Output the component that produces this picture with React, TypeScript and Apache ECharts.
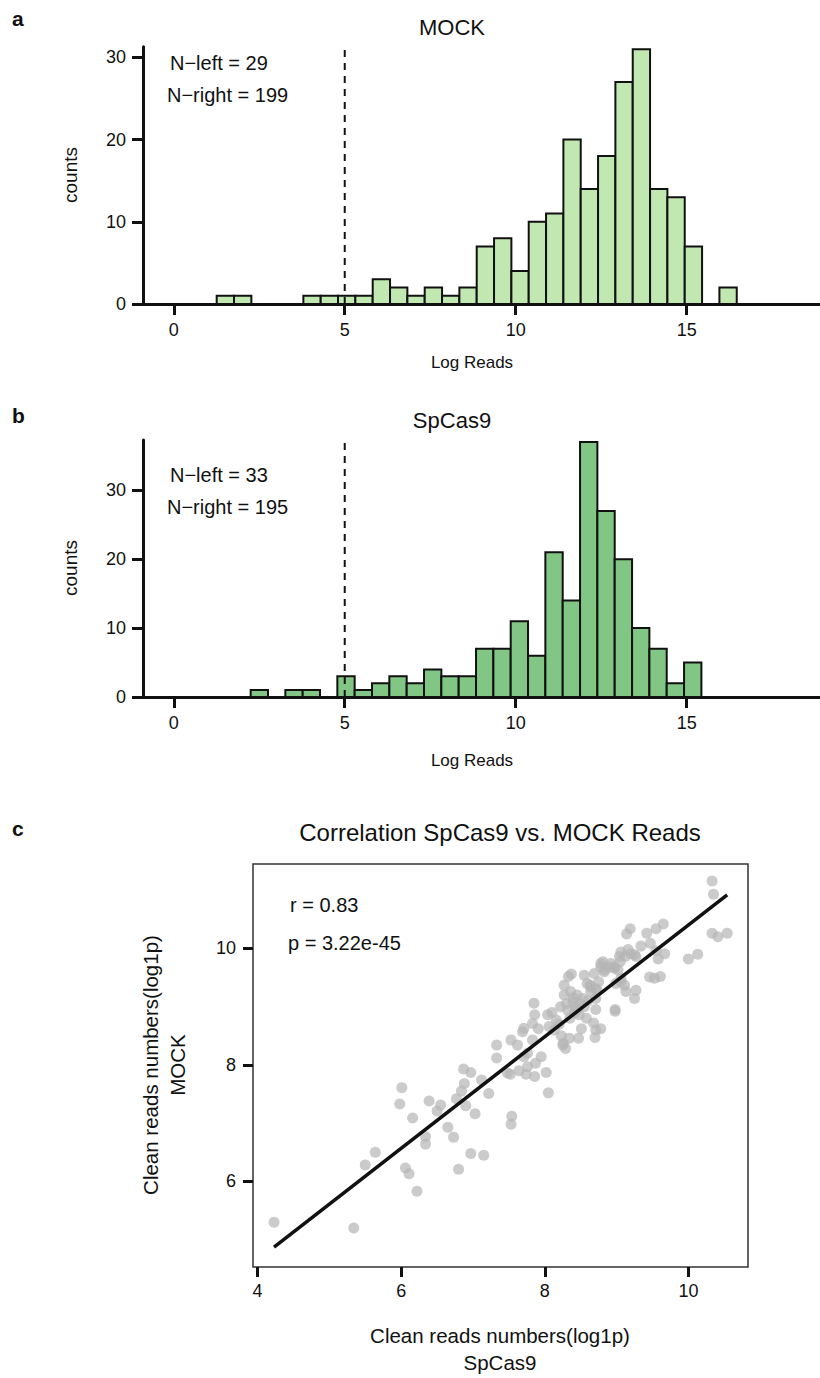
import React, { useEffect, useRef } from "react";
import * as echarts from "echarts";

// ---------- Data ----------
const binWidth = 0.507;
const cutoff = 5;
const mockBinStart = 1.255;
const mockCounts = [1, 1, 0, 0, 0, 1, 1, 1, 1, 3, 2, 1, 2, 1, 2, 7, 8, 4, 10, 11, 20, 14, 18, 27, 31, 14, 13, 7, 0, 2];
const spcasBinStart = 2.249;
const spcasCounts = [1, 0, 1, 1, 0, 3, 1, 2, 3, 2, 4, 3, 3, 7, 7, 11, 6, 21, 14, 37, 27, 20, 10, 7, 2, 5];
const histTicksX = [0, 5, 10, 15];
const histTicksY = [0, 10, 20, 30];
const mockNotes = ["N\u2212left = 29", "N\u2212right = 199"];
const spcasNotes = ["N\u2212left = 33", "N\u2212right = 195"];

const scatterX = [
  4.23, 5.34, 5.5, 5.64, 6.06, 6.11, 6.22, 6.01, 5.98, 6.16, 6.39, 6.5, 6.55, 6.34, 6.34, 6.65, 6.73, 6.8, 6.97, 7.15,
  7.03, 6.9, 6.77, 6.84, 6.88, 6.87, 6.97, 7.12, 7.22, 7.33, 7.33, 7.53, 7.62, 7.69, 7.83, 7.95, 7.87, 7.76, 7.64, 7.48,
  7.74, 7.86, 8.02, 8.05, 8.25, 8.29, 7.54, 7.53, 7.71, 7.76, 7.52, 7.85, 7.86, 8.04, 7.83, 7.71, 7.91, 8.06, 8.16, 8.13,
  8.23, 8.26, 8.34, 8.47, 8.51, 8.68, 8.71, 8.78, 8.7, 8.98, 8.71, 8.39, 8.27, 8.36, 8.43, 8.55, 8.48, 8.32, 8.22, 8.41,
  8.27, 8.33, 8.37, 8.55, 8.69, 8.63, 8.75, 8.73, 8.64, 8.53, 8.78, 8.92, 8.83, 8.97, 9.06, 9.11, 9.13, 9.27, 9.25, 9.04,
  9.2, 9.06, 9.46, 8.71, 8.59, 10.33, 10.35, 10.33, 10.41, 10.54, 10.0, 10.13, 9.65, 9.55, 9.42, 9.19, 9.14, 9.34, 9.47, 9.55,
  9.67, 9.58, 9.53, 9.61, 9.16, 9.12, 9.05, 9.27, 8.97, 9.02, 8.81, 8.78, 8.83, 9.06, 8.99, 8.98, 8.64, 8.71, 9.25, 8.9,
  8.4, 8.45, 8.5, 8.45, 8.6, 8.35, 8.2, 8.1, 8.58, 8.3
];
const scatterY = [
  5.3, 5.2, 6.28, 6.5, 6.23, 6.13, 5.83, 7.61, 7.33, 7.09, 7.38, 7.21, 7.31, 6.77, 6.64, 6.93, 6.76, 6.21, 6.48, 6.45,
  7.16, 7.3, 7.42, 7.55, 7.68, 7.93, 7.87, 7.74, 7.51, 8.34, 8.12, 8.43, 8.34, 8.57, 8.43, 8.14, 8.03, 7.97, 7.9, 7.86,
  7.84, 7.8, 7.87, 7.52, 8.34, 8.28, 7.12, 6.98, 8.14, 8.2, 7.84, 9.06, 8.86, 8.86, 8.71, 8.63, 8.62, 8.66, 8.77, 8.6,
  8.5, 8.37, 8.46, 8.46, 8.62, 8.72, 8.6, 8.62, 8.47, 8.95, 8.95, 9.08, 9.2, 9.26, 9.0, 9.0, 8.86, 8.94, 9.0, 8.89,
  9.37, 9.52, 9.56, 9.54, 9.57, 9.37, 9.43, 9.28, 9.26, 9.14, 9.74, 9.74, 9.63, 9.66, 9.43, 9.37, 9.26, 9.28, 9.14, 9.86,
  9.91, 9.94, 9.51, 9.14, 9.4, 11.16, 10.93, 10.26, 10.2, 10.26, 9.82, 9.9, 10.42, 10.34, 10.26, 10.34, 10.25, 10.04, 10.09, 9.96,
  9.91, 9.82, 9.49, 9.52, 9.98, 9.86, 9.77, 9.86, 9.68, 9.63, 9.77, 9.68, 9.6, 9.49, 9.4, 8.92, 9.34, 9.31, 9.89, 9.68,
  9.15, 9.2, 9.05, 8.95, 9.1, 8.8, 8.7, 8.9, 8.8, 9.05
];
const fitX = [4.23, 10.54];
const fitY = [4.87, 10.92];
const scatterTicksX = [4, 6, 8, 10];
const scatterTicksY = [6, 8, 10];
const corrNotes = ["r = 0.83", "p = 3.22e-45"];

const FONT = "'Liberation Sans', Arial, Helvetica, sans-serif";
const INK = "#111111";

function histRows(start: number, counts: number[]) {
  return counts.map((c, i) => [start + i * binWidth, start + (i + 1) * binWidth, c]);
}

function histSeries(idx: number, start: number, counts: number[], fill: string) {
  return {
    type: "custom",
    xAxisIndex: idx,
    yAxisIndex: idx,
    data: histRows(start, counts),
    encode: { x: [0, 1], y: 2 },
    clip: false,
    renderItem: (_p: any, api: any) => {
      const c = api.value(2);
      if (!c) return null;
      const a = api.coord([api.value(0), c]);
      const b = api.coord([api.value(1), 0]);
      return {
        type: "rect",
        shape: { x: a[0], y: a[1], width: b[0] - a[0], height: b[1] - a[1] },
        style: { fill, stroke: INK, lineWidth: 2 },
      };
    },
  };
}

function histX(idx: number) {
  return {
    type: "value",
    gridIndex: idx,
    min: -0.9,
    max: 18.9,
    axisLine: { show: true, onZero: false, lineStyle: { color: INK, width: 3 } },
    axisTick: { show: true, length: 11, lineStyle: { color: INK, width: 3 }, customValues: histTicksX },
    axisLabel: { color: INK, fontSize: 18, fontFamily: FONT, margin: 17, customValues: histTicksX },
    splitLine: { show: false },
  };
}

function histY(idx: number, max: number) {
  return {
    type: "value",
    gridIndex: idx,
    min: 0,
    max,
    axisLine: { show: true, onZero: false, lineStyle: { color: INK, width: 3 } },
    axisTick: { show: true, length: 11, lineStyle: { color: INK, width: 3 }, customValues: histTicksY },
    axisLabel: { color: INK, fontSize: 18, fontFamily: FONT, margin: 17, customValues: histTicksY },
    splitLine: { show: false },
  };
}

function txt(x: number, y: number, text: string, size: number, opts: any = {}) {
  return {
    type: "text",
    x,
    y,
    rotation: opts.rotation || 0,
    style: {
      text,
      fill: INK,
      font: `${opts.bold ? "bold " : ""}${size}px ${FONT}`,
      align: opts.align || "left",
      verticalAlign: "middle",
    },
  };
}

export default function App() {
  const ref = useRef<HTMLDivElement>(null);
  useEffect(() => {
    if (!ref.current) return;
    const chart = echarts.init(ref.current, undefined, { renderer: "svg" });
    const maxA = Math.max(...mockCounts);
    const maxB = Math.max(...spcasCounts);
    const option: any = {
      animation: false,
      backgroundColor: "#ffffff",
      grid: [
        { left: 143, top: 46.7, width: 677, height: 257.3 },
        { left: 143, top: 440, width: 677, height: 257 },
        { left: 253, top: 864, width: 495, height: 403, show: true, borderColor: "#333333", borderWidth: 1.5, backgroundColor: "transparent" },
      ],
      xAxis: [
        histX(0),
        histX(1),
        {
          type: "value",
          gridIndex: 2,
          min: 3.937,
          max: 10.83,
          axisLine: { show: false },
          axisTick: { show: true, length: 10, lineStyle: { color: INK, width: 3 }, customValues: scatterTicksX },
          axisLabel: { color: INK, fontSize: 18, fontFamily: FONT, margin: 15, customValues: scatterTicksX },
          splitLine: { show: false },
        },
      ],
      yAxis: [
        histY(0, 31.3),
        histY(1, 37.3),
        {
          type: "value",
          gridIndex: 2,
          min: 4.53,
          max: 11.45,
          axisLine: { show: false },
          axisTick: { show: true, length: 10, lineStyle: { color: INK, width: 3 }, customValues: scatterTicksY },
          axisLabel: { color: INK, fontSize: 18, fontFamily: FONT, margin: 17, customValues: scatterTicksY },
          splitLine: { show: false },
        },
      ],
      series: [
        histSeries(0, mockBinStart, mockCounts, "#c2e8b2"),
        histSeries(1, spcasBinStart, spcasCounts, "#82c685"),
        {
          type: "line",
          xAxisIndex: 0,
          yAxisIndex: 0,
          data: [[cutoff, 0], [cutoff, maxA]],
          symbol: "none",
          lineStyle: { color: INK, width: 2, type: [7, 6] },
          z: 5,
        },
        {
          type: "line",
          xAxisIndex: 1,
          yAxisIndex: 1,
          data: [[cutoff, 0], [cutoff, maxB]],
          symbol: "none",
          lineStyle: { color: INK, width: 2, type: [7, 6] },
          z: 5,
        },
        {
          type: "scatter",
          xAxisIndex: 2,
          yAxisIndex: 2,
          data: scatterX.map((x, i) => [x, scatterY[i]]),
          symbolSize: 11,
          itemStyle: { color: "#b5b5b5", opacity: 0.7 },
          z: 2,
        },
        {
          type: "line",
          xAxisIndex: 2,
          yAxisIndex: 2,
          data: fitX.map((x, i) => [x, fitY[i]]),
          symbol: "none",
          lineStyle: { color: INK, width: 3.5 },
          z: 3,
        },
      ],
      graphic: [
        txt(12, 18, "a", 21, { bold: true }),
        txt(12, 415, "b", 21, { bold: true }),
        txt(12, 828, "c", 21, { bold: true }),
        txt(452, 27, "MOCK", 22, { align: "center" }),
        txt(452, 420, "SpCas9", 22, { align: "center" }),
        txt(500, 832, "Correlation SpCas9 vs. MOCK Reads", 24, { align: "center" }),
        txt(170, 63, mockNotes[0], 20),
        txt(167, 95, mockNotes[1], 20),
        txt(170, 475, spcasNotes[0], 20),
        txt(167, 507, spcasNotes[1], 20),
        txt(290, 905, corrNotes[0], 20),
        txt(288, 943, corrNotes[1], 20),
        txt(472, 362, "Log Reads", 17, { align: "center" }),
        txt(472, 760, "Log Reads", 17, { align: "center" }),
        txt(70, 175, "counts", 19, { align: "center", rotation: Math.PI / 2 }),
        txt(70, 568, "counts", 19, { align: "center", rotation: Math.PI / 2 }),
        txt(500, 1335, "Clean reads numbers(log1p)", 20.5, { align: "center" }),
        txt(500, 1362, "SpCas9", 20.5, { align: "center" }),
        txt(150, 1065, "Clean reads numbers(log1p)", 20.5, { align: "center", rotation: Math.PI / 2 }),
        txt(177, 1065, "MOCK", 20.5, { align: "center", rotation: Math.PI / 2 }),
      ],
    };
    chart.setOption(option);
    return () => chart.dispose();
  }, []);
  return (
    <div
      ref={ref}
      style={{ position: "absolute", left: 0, top: 0, width: 820, height: 1378, background: "#fff" }}
    />
  );
}
